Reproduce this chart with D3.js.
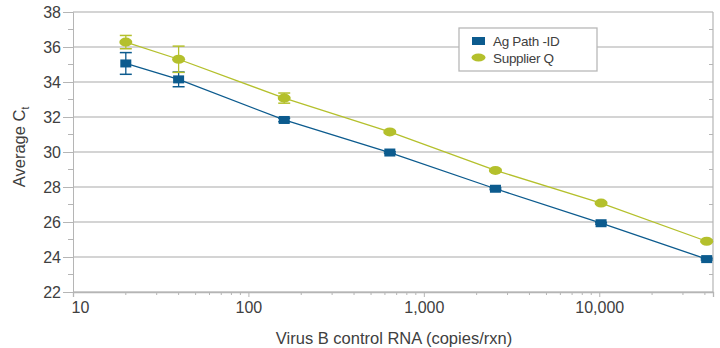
<!DOCTYPE html>
<html>
<head>
<meta charset="utf-8">
<script src="https://cdn.jsdelivr.net/npm/d3@7"></script>
<style>
  html, body { margin: 0; padding: 0; background: #fff; }
  svg { display: block; font-family: "Liberation Sans", Arial, sans-serif; }
</style>
</head>
<body>
<svg id="chart" width="720" height="348"></svg>
<script>
// Template copies per reaction (4-fold dilution series)
const copies = [20, 40, 160, 640, 2560, 10240, 40960];

// Mean Ct and standard deviation per series
const agPathCt = [35.06, 34.15, 31.83, 29.97, 27.90, 25.93, 23.88];
const agPathSd = [0.62, 0.42, 0.10, 0.05, 0.05, 0.05, 0.05];
const supplierQCt = [36.28, 35.30, 33.08, 31.15, 28.95, 27.08, 24.90];
const supplierQSd = [0.38, 0.75, 0.29, 0.05, 0.05, 0.05, 0.05];

const seriesNames = ["Ag Path -ID", "Supplier Q"];
const yTicks = [22, 24, 26, 28, 30, 32, 34, 36, 38];
const xTicks = [10, 100, 1000, 10000];

const colors = { ag: "#0c5b8e", sq: "#b4c02c" };

const svg = d3.select("#chart");
const m = { left: 73, right: 7, top: 12, bottom: 56 };
const W = 720, H = 348;

const x = d3.scaleLog().domain([10, 44500]).range([m.left, W - m.right]);
const y = d3.scaleLinear().domain([22, 38]).range([H - m.bottom, m.top]);

const gridColor = "#c6c6c6";
const axisColor = "#b5b5b5";
const textColor = "#404040";

// horizontal grid
svg.append("g").selectAll("line").data(yTicks).join("line")
  .attr("x1", m.left).attr("x2", W - m.right)
  .attr("y1", d => y(d)).attr("y2", d => y(d))
  .attr("stroke", gridColor).attr("stroke-width", 1.3);

// y axis (left)
const yAxis = svg.append("g").attr("transform", `translate(${m.left},0)`)
  .call(d3.axisLeft(y).tickValues(yTicks).tickSize(10).tickPadding(2).tickFormat(d3.format("d")));
yAxis.select(".domain").attr("stroke", axisColor);
yAxis.selectAll(".tick line").attr("stroke", axisColor);
yAxis.selectAll("text").attr("fill", textColor).attr("font-size", 16);

// minor y ticks, left and right
const yMinor = d3.range(23, 38, 2);
svg.append("g").selectAll("line").data(yMinor).join("line")
  .attr("x1", m.left - 5).attr("x2", m.left)
  .attr("y1", d => y(d)).attr("y2", d => y(d))
  .attr("stroke", axisColor);
svg.append("line")
  .attr("x1", W - m.right).attr("x2", W - m.right)
  .attr("y1", y(38)).attr("y2", y(22))
  .attr("stroke", axisColor).attr("stroke-width", 1.2);
svg.append("g").selectAll("line").data(yMinor).join("line")
  .attr("x1", W - m.right - 4).attr("x2", W - m.right)
  .attr("y1", d => y(d)).attr("y2", d => y(d))
  .attr("stroke", axisColor);

// x axis (log)
const xMinor = [];
[10, 100, 1000, 10000].forEach(dec => {
  for (let k = 2; k <= 9; k++) if (dec * k <= 44500) xMinor.push(dec * k);
});
const xAxis = svg.append("g").attr("transform", `translate(0,${y(22)})`)
  .call(d3.axisBottom(x).tickValues(xTicks).tickSize(5).tickPadding(5).tickFormat(d3.format(",")));
xAxis.select(".domain").attr("stroke", axisColor).attr("stroke-width", 1.3);
xAxis.selectAll(".tick line").attr("stroke", axisColor);
xAxis.selectAll("text").attr("fill", textColor).attr("font-size", 16);
xAxis.selectAll(".tick").filter(d => d === 10).select("text").attr("dx", 7);
svg.append("g").selectAll("line").data(xMinor).join("line")
  .attr("x1", d => x(d)).attr("x2", d => x(d))
  .attr("y1", y(22)).attr("y2", y(22) + 3)
  .attr("stroke", axisColor);

// axis titles
svg.append("text")
  .attr("x", (m.left + W - m.right) / 2 + 1).attr("y", 344)
  .attr("text-anchor", "middle").attr("fill", textColor).attr("font-size", 16.5)
  .text("Virus B control RNA (copies/rxn)");
const yt = svg.append("text")
  .attr("transform", `translate(25,${(y(38) + y(22)) / 2 - 5}) rotate(-90)`)
  .attr("text-anchor", "middle").attr("fill", textColor).attr("font-size", 16.5);
yt.append("tspan").text("Average C");
yt.append("tspan").attr("font-size", 10).attr("dy", 4).text("t");

// series
const series = [
  { key: "ag", name: seriesNames[0], ct: agPathCt, sd: agPathSd, shape: "rect" },
  { key: "sq", name: seriesNames[1], ct: supplierQCt, sd: supplierQSd, shape: "ellipse" }
];
const line = d3.line().x(d => x(d.c)).y(d => y(d.v));

series.forEach(s => {
  const pts = copies.map((c, i) => ({ c, v: s.ct[i], sd: s.sd[i] }));
  const g = svg.append("g");
  const col = colors[s.key];
  g.append("path").datum(pts).attr("d", line)
    .attr("fill", "none").attr("stroke", col).attr("stroke-width", 1.3);
  // error bars
  const eb = g.selectAll(".eb").data(pts).join("g");
  eb.append("line")
    .attr("x1", d => x(d.c)).attr("x2", d => x(d.c))
    .attr("y1", d => y(d.v + d.sd)).attr("y2", d => y(d.v - d.sd))
    .attr("stroke", col).attr("stroke-width", 1.3);
  [1, -1].forEach(sign => {
    eb.append("line")
      .attr("x1", d => x(d.c) - 6).attr("x2", d => x(d.c) + 6)
      .attr("y1", d => y(d.v + sign * d.sd)).attr("y2", d => y(d.v + sign * d.sd))
      .attr("stroke", col).attr("stroke-width", 1.5);
  });
  // markers
  if (s.shape === "rect") {
    g.selectAll(".mk").data(pts).join("rect")
      .attr("x", d => x(d.c) - 5.5).attr("y", d => y(d.v) - 4)
      .attr("width", 11).attr("height", 8).attr("fill", col);
  } else {
    g.selectAll(".mk").data(pts).join("ellipse")
      .attr("cx", d => x(d.c)).attr("cy", d => y(d.v))
      .attr("rx", 6.5).attr("ry", 4.5).attr("fill", col);
  }
});

// legend
const lg = svg.append("g").attr("transform", "translate(459,28)");
lg.append("rect").attr("width", 138).attr("height", 43)
  .attr("fill", "#fff").attr("stroke", "#b8b8b8").attr("stroke-width", 1.3);
series.forEach((s, i) => {
  const row = lg.append("g").attr("transform", `translate(0,${13 + i * 16.5})`);
  if (s.shape === "rect") {
    row.append("rect").attr("x", 13).attr("y", -4).attr("width", 13).attr("height", 8).attr("fill", colors[s.key]);
  } else {
    row.append("ellipse").attr("cx", 19.5).attr("cy", 0).attr("rx", 7).attr("ry", 4).attr("fill", colors[s.key]);
  }
  row.append("text").attr("x", 34).attr("y", 5).attr("fill", textColor).attr("font-size", 13.5)
    .attr("letter-spacing", -0.3).text(s.name);
});
</script>
</body>
</html>
